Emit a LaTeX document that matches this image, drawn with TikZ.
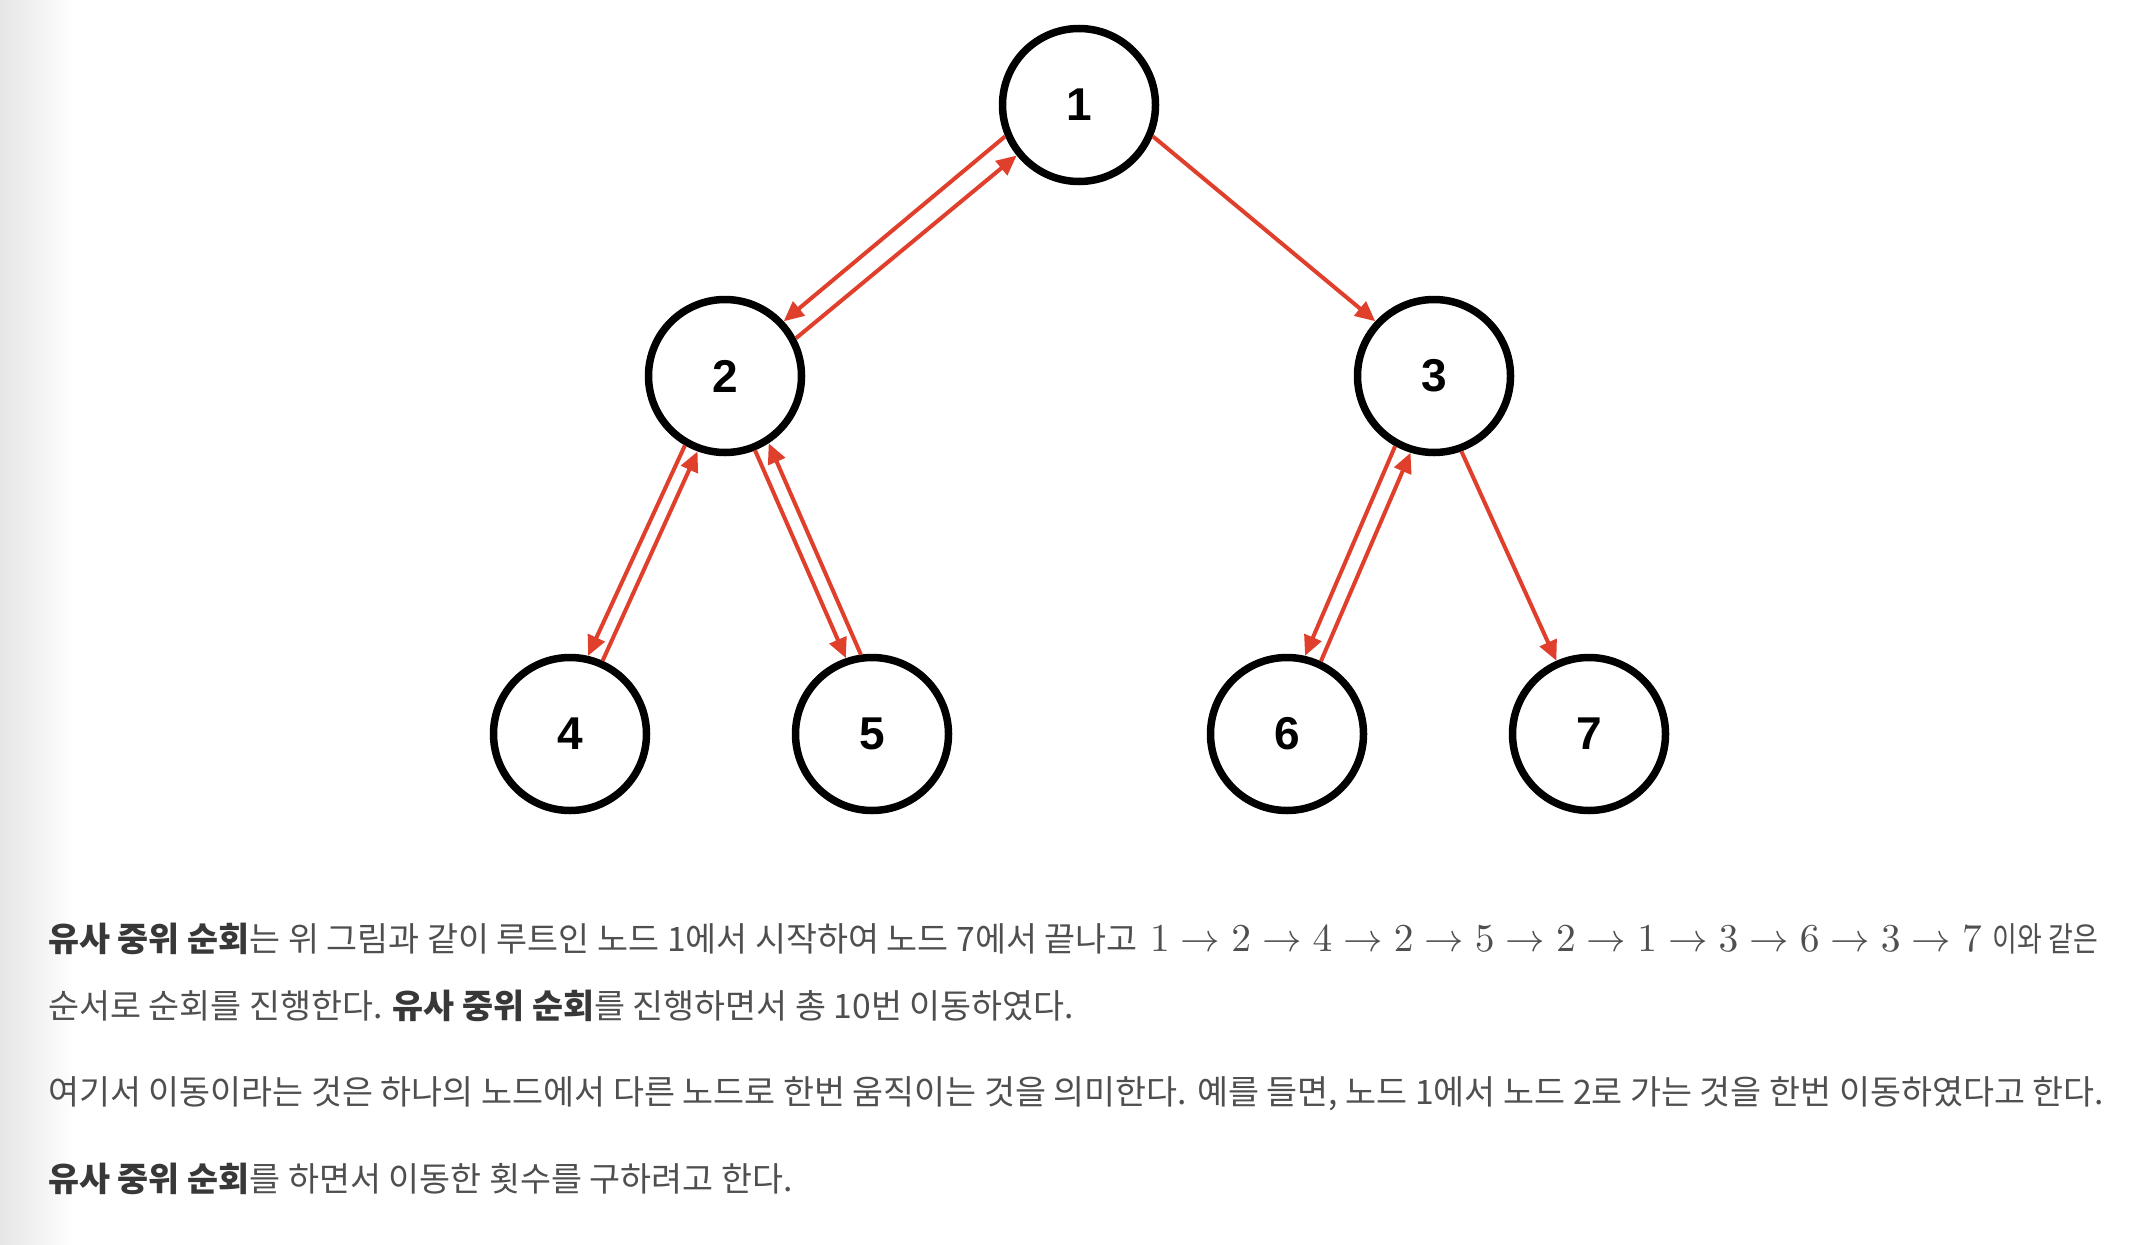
\documentclass[tikz,border=0pt]{standalone}
\usepackage{graphicx}
\usepackage{fontspec}
\setmainfont{Liberation Sans}
\newfontfamily\krfont{Noto Sans CJK KR}
\newfontfamily\numfont{Liberation Sans}
\usetikzlibrary{arrows.meta,calc}
\definecolor{edgered}{HTML}{DF3F2B}
\definecolor{txtgray}{HTML}{4F4F4F}
\definecolor{txtdark}{HTML}{383838}
\newcommand{\bk}[1]{{\bfseries\color{txtdark}#1}}
\begin{document}
\begin{tikzpicture}[x=1pt,y=-1pt,
  treenode/.style={circle, draw=black, line width=7.5pt, minimum size=153pt, inner sep=0pt,
    font=\numfont\fontsize{46}{46}\selectfont\bfseries},
  edgearrow/.style={draw=edgered, line width=4pt, -{Triangle[length=20pt,width=18pt]}},
  krtext/.style={anchor=base west, inner sep=0pt, text=txtgray, font=\krfont\fontsize{33.7}{33.7}\selectfont},
  mathtext/.style={anchor=base west, inner sep=0pt, text=txtgray}
]
\fill[white] (0,0) rectangle (2140,1244);
\shade[left color=black!10, right color=white] (0,0) rectangle (75,1244);
\useasboundingbox (0,0) rectangle (2140,1244);

\node[treenode] (n1) at (1079,105) {1};
\node[treenode] (n2) at (725,376) {2};
\node[treenode] (n3) at (1434,376) {3};
\node[treenode] (n4) at (570,734) {4};
\node[treenode] (n5) at (872,734) {5};
\node[treenode] (n6) at (1287,734) {6};
\node[treenode] (n7) at (1589,734) {7};

\draw[edgearrow] (n1.-23) -- (n3.137);
\draw[edgearrow] (n1.203) -- (n2.43);
\draw[edgearrow] (n2.28) -- (n1.219);
\draw[edgearrow] (n2.-120) -- (n4.77);
\draw[edgearrow] (n4.66) -- (n2.-110);
\draw[edgearrow] (n2.-68) -- (n5.109);
\draw[edgearrow] (n5.98) -- (n2.-57);
\draw[edgearrow] (n3.-119) -- (n6.77);
\draw[edgearrow] (n6.65) -- (n3.-107);
\draw[edgearrow] (n3.-70) -- (n7.114);

\node[krtext] (t1a) at (48,951) {\bk{유사 중위 순회}는 위 그림과 같이 루트인 노드 1에서 시작하여 노드 7에서 끝나고};
\node[mathtext] (t1m) at (1150,951) {\scalebox{3.95}{$1 \rightarrow 2 \rightarrow 4 \rightarrow 2 \rightarrow 5 \rightarrow 2 \rightarrow 1 \rightarrow 3 \rightarrow 6 \rightarrow 3 \rightarrow 7$}};
\node[krtext, anchor=base east] (t1b) at (2098,951) {\scalebox{0.8}[1]{이와 같은}};
\node[krtext] (t2) at (48,1018) {순서로 순회를 진행한다. \bk{유사 중위 순회}를 진행하면서 총 10번 이동하였다.};
\node[krtext] (t3) at (48,1104) {여기서 이동이라는 것은 하나의 노드에서 다른 노드로 한번 움직이는 것을 의미한다. 예를 들면, 노드 1에서 노드 2로 가는 것을 한번 이동하였다고 한다.};
\node[krtext] (t4) at (48,1191) {\bk{유사 중위 순회}를 하면서 이동한 횟수를 구하려고 한다.};
\end{tikzpicture}
\end{document}
